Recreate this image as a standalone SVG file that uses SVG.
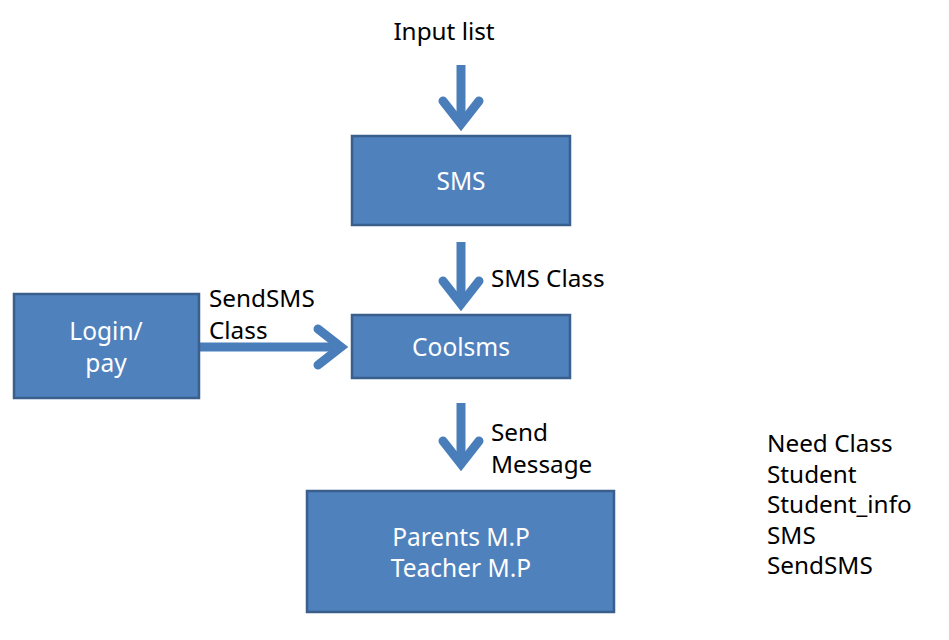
<svg xmlns="http://www.w3.org/2000/svg" width="949" height="640" viewBox="0 0 949 640">
<style>
.box{fill:#4F81BD;stroke:#3A5F8C;stroke-width:2.5}
.wt{fill:#FFFFFF;font-family:"Noto Sans","Open Sans","Liberation Sans",sans-serif;font-size:24.5px;text-anchor:middle}
.bt{fill:#000000;font-family:"Noto Sans","Open Sans","Liberation Sans",sans-serif;font-size:24.3px}
.shaft{stroke:#4A7EBB;stroke-width:9;fill:none;stroke-linecap:butt}
.head{stroke:#4A7EBB;stroke-width:9;fill:none;stroke-linecap:round;stroke-linejoin:miter;stroke-miterlimit:10}
</style>
<rect width="949" height="640" fill="#FFFFFF"/>
<g id="connectors">
<line class="shaft" x1="461" y1="65" x2="461" y2="124"/>
<polyline class="head" points="443,101 461,124 479,101"/>
<line class="shaft" x1="461" y1="242" x2="461" y2="304"/>
<polyline class="head" points="443,281 461,304 479,281"/>
<line class="shaft" x1="199" y1="347" x2="341" y2="347"/>
<polyline class="head" points="318,329 341,347 318,365"/>
<line class="shaft" x1="461" y1="403" x2="461" y2="464"/>
<polyline class="head" points="443,441 461,464 479,441"/>
</g>
<g id="input-label"><text class="bt" x="444" y="40" text-anchor="middle">Input list</text></g>
<g id="sms"><rect class="box" x="352" y="136" width="218" height="89"/><text class="wt" x="461" y="190">SMS</text></g>
<g id="coolsms"><rect class="box" x="352" y="315" width="218" height="63"/><text class="wt" x="461" y="356">Coolsms</text></g>
<g id="login"><rect class="box" x="14" y="294" width="185" height="104"/><text class="wt" x="106" y="340">Login/</text><text class="wt" x="106" y="372">pay</text></g>
<g id="parents"><rect class="box" x="307" y="491" width="307" height="121"/><text class="wt" x="461" y="546">Parents M.P</text><text class="wt" x="461" y="577">Teacher M.P</text></g>
<g id="labels">
<text class="bt" x="491" y="287">SMS Class</text>
<text class="bt" x="209" y="307">SendSMS</text>
<text class="bt" x="209" y="339">Class</text>
<text class="bt" x="491" y="441">Send</text>
<text class="bt" x="491" y="473">Message</text>
</g>
<g id="need-list">
<text class="bt" x="767" y="452">Need Class</text>
<text class="bt" x="767" y="483">Student</text>
<text class="bt" x="767" y="513">Student_info</text>
<text class="bt" x="767" y="544">SMS</text>
<text class="bt" x="767" y="574">SendSMS</text>
</g>
</svg>
